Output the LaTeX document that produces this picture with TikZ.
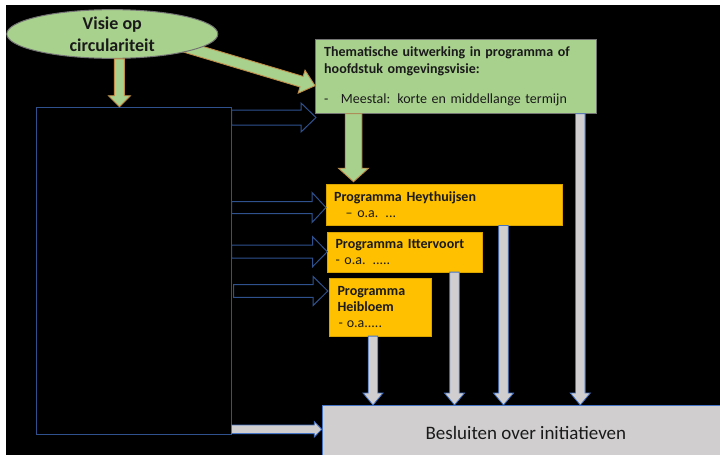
\documentclass[tikz,border=0pt]{standalone}
\usepackage{fontspec}
\setmainfont{Carlito}
\usepackage{tikz}
\usetikzlibrary{shapes,calc}
\definecolor{lightgreen}{RGB}{169,209,142}
\definecolor{arrowrim}{RGB}{192,140,72}
\definecolor{progorange}{RGB}{255,192,0}
\definecolor{lightgrey}{RGB}{208,206,206}
\definecolor{rimblue}{RGB}{47,82,143}
\definecolor{greyrim}{RGB}{68,114,196}
\definecolor{inktext}{RGB}{26,26,26}

\begin{document}
\begin{tikzpicture}[x=1pt,y=-1pt]
  %%Styles for the boxes
  \tikzset{visie ellipse/.style={ellipse,draw=black!55,line width=1pt,fill=lightgreen,minimum width=211pt,minimum height=48pt,inner sep=0pt,align=center,text=inktext,font=\bfseries\fontsize{18}{21.7}\selectfont}}
  \tikzset{green box/.style={draw=black!55,fill=lightgreen,text=inktext,align=left,anchor=north west,inner xsep=9pt,inner ysep=0pt,font=\fontsize{14}{16.6}\selectfont}}
  \tikzset{prog box/.style={draw=progorange!85!black,fill=progorange,text=inktext,align=left,anchor=north west,inner xsep=8pt,inner ysep=0pt,font=\fontsize{14}{16.3}\selectfont}}
  \tikzset{grey box/.style={draw=greyrim,fill=lightgrey,text=inktext,anchor=north west,inner sep=0pt,font=\fontsize{19}{23}\selectfont}}
  \tikzset{frame/.style={draw=rimblue,line width=1pt,anchor=north west,inner sep=0pt}}
  %%Block arrows: shaft half width, head half width, head length
  \tikzset{block arrow/.style n args={3}{to path={
      ($(\tikztotarget)!#3!(\tikztostart)$) coordinate (ba head)
      ($(\tikztostart)!#1!90:(\tikztotarget)$)
      -- ($(ba head)!#1!-90:(\tikztostart)$)
      -- ($(ba head)!#2!-90:(\tikztostart)$)
      -- (\tikztotarget)
      -- ($(ba head)!#2!90:(\tikztostart)$)
      -- ($(ba head)!#1!90:(\tikztostart)$)
      -- ($(\tikztostart)!#1!-90:(\tikztotarget)$)
      -- cycle}}}
  \tikzset{green arrow/.style={draw=arrowrim,fill=lightgreen,line width=0.9pt}}
  \tikzset{open arrow/.style={draw=rimblue,fill=black,line width=1pt}}
  \tikzset{grey arrow/.style={draw=greyrim,fill=lightgrey,line width=0.8pt}}
  %%Background
  \useasboundingbox (0,0) rectangle (720,455);
  \fill[white] (0,0) rectangle (720,455);
  \fill[black] (6,5) rectangle (720,455);
  %%Place the boxes
  \path (112.3,34) coordinate (e);
  \node[frame,minimum width=195pt,minimum height=327.6pt] (kader) at (35.5,106.7) {};
  \node[green box,text width=263pt,minimum height=74pt] (thema) at (315,39.3)
    {\textbf{Thematische uitwerking in programma of}\\\textbf{hoofdstuk omgevingsvisie:}\\[14pt]-\hspace{12.5pt}Meestal: korte en middellange termijn};
  \node[prog box,text width=219.5pt,minimum height=40.7pt] (hey) at (326,184.3)
    {\textbf{Programma Heythuijsen}\\\hspace*{11.5pt}– o.a. ...};
  \node[prog box,text width=138.4pt,minimum height=40pt] (itt) at (327.3,231.7)
    {\textbf{Programma Ittervoort}\\- o.a. .....};
  \node[prog box,text width=85.4pt,minimum height=57.4pt] (hei) at (329.3,278.3)
    {\textbf{Programma}\\\textbf{Heibloem}\\\hspace*{1pt}-\hspace{4pt}o.a.....};
  \node[grey box,minimum width=405pt,minimum height=55pt] (besluit) at (321.7,405)
    {\hspace*{3pt}Besluiten over initiatieven};
  %%The diagonal arrow runs under the ellipse
  \path (e) ++(70,12) coordinate (d0);
  \path (thema.south west) ++(0,-28) coordinate (v3);
  \path[green arrow,block arrow={5.5pt}{12pt}{14pt}] (d0) to (v3);
  \node[visie ellipse] (visie) at (e) {Visie op\\circulariteit};
  %%Coordinates for the arrow ends
  \path (visie.-74) coordinate (v1);
  \path (v1 |- kader.north) coordinate (v2);
  \path (thema.south west) ++(38.5,0) coordinate (t1);
  \path (t1 |- hey.north) ++(0,-2.6) coordinate (t2);
  \path (kader.north east) ++(0,10.8) coordinate (o1);
  \path (o1 -| thema.west) ++(1,0) coordinate (p1);
  \path (kader.north east) ++(0,100.8) coordinate (o2);
  \path (o2 -| hey.west) coordinate (p2);
  \path (kader.north east) ++(0,145) coordinate (o3);
  \path (o3 -| itt.west) coordinate (p3);
  \path (kader.north east) ++(2,184.3) coordinate (o4);
  \path (o4 -| hei.west) ++(-1.5,0) coordinate (p4);
  \path (kader.south east) ++(0,-6) coordinate (o5);
  \path (o5 -| besluit.west) coordinate (p5);
  \path (hei.south west) ++(43.7,0) coordinate (g1);
  \path (itt.south west) ++(127.2,0) coordinate (g2);
  \path (hey.south west) ++(177.5,0) coordinate (g3);
  \path (thema.south west) ++(265.3,0) coordinate (g4);
  %%Drawing the arrows
  \path[green arrow,block arrow={5pt}{11pt}{11pt}] (v1) to (v2);
  \path[green arrow,block arrow={8.3pt}{15pt}{13.5pt}] (t1) to (t2);
  \path[open arrow,block arrow={7.5pt}{14.5pt}{15pt}] (o1) to (p1);
  \path[open arrow,block arrow={6pt}{15pt}{14pt}] (o2) to (p2);
  \path[open arrow,block arrow={6.5pt}{15pt}{14.7pt}] (o3) to (p3);
  \path[open arrow,block arrow={6.4pt}{14.5pt}{14.7pt}] (o4) to (p4);
  \foreach \g in {g1,g2,g3,g4}{
    \path[grey arrow,block arrow={4.8pt}{10pt}{12pt}] (\g) to (\g |- besluit.north);
  }
  \path[grey arrow,block arrow={4.3pt}{7.7pt}{7.4pt}] (o5) to (p5);
\end{tikzpicture}
\end{document}
